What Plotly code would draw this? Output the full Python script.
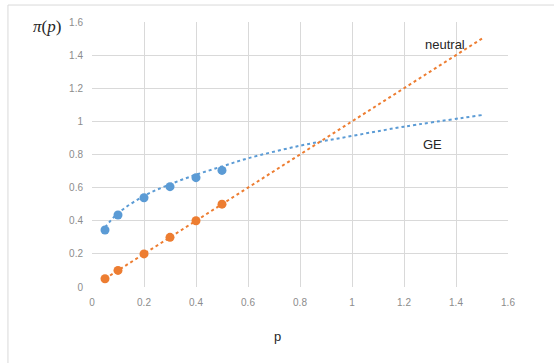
import plotly.graph_objects as go

# data points
p_vals = [0.05, 0.1, 0.2, 0.3, 0.4, 0.5]
ge_vals = [0.344, 0.435, 0.539, 0.606, 0.660, 0.704]
neutral_vals = [0.05, 0.1, 0.2, 0.3, 0.4, 0.5]

# trendlines
ge_trend_x = [0.05, 0.1, 0.2, 0.3, 0.4, 0.5, 0.6, 0.8, 1.0, 1.2, 1.5]
ge_trend_y = [0.36, 0.445, 0.55, 0.62, 0.678, 0.728, 0.777, 0.853, 0.912, 0.968, 1.038]
neutral_trend_x = [0.05, 1.5]
neutral_trend_y = [0.05, 1.5]

tick_vals = [0, 0.2, 0.4, 0.6, 0.8, 1.0, 1.2, 1.4, 1.6]
tick_text = ["0", "0.2", "0.4", "0.6", "0.8", "1", "1.2", "1.4", "1.6"]

BLUE = "#5B9BD5"
ORANGE = "#ED7D31"

fig = go.Figure()
fig.add_trace(go.Scatter(x=ge_trend_x, y=ge_trend_y, mode="lines",
                         line=dict(color=BLUE, width=2, dash="dot", shape="spline"),
                         hoverinfo="skip"))
fig.add_trace(go.Scatter(x=neutral_trend_x, y=neutral_trend_y, mode="lines",
                         line=dict(color=ORANGE, width=2, dash="dot"),
                         hoverinfo="skip"))
fig.add_trace(go.Scatter(x=p_vals, y=ge_vals, mode="markers",
                         marker=dict(color=BLUE, size=9), name="GE"))
fig.add_trace(go.Scatter(x=p_vals, y=neutral_vals, mode="markers",
                         marker=dict(color=ORANGE, size=9), name="neutral"))

axis_common = dict(
    range=[0, 1.6], tickvals=tick_vals, ticktext=tick_text,
    showgrid=True, gridcolor="#D9D9D9", gridwidth=1,
    zeroline=False, showline=False,
    ticks="outside", ticklen=6, tickcolor="rgba(0,0,0,0)",
    tickfont=dict(family="Liberation Sans, Arial", size=10, color="#8C8C8C"),
    fixedrange=True,
)

fig.update_layout(
    width=554, height=363,
    margin=dict(l=92, r=46, t=22, b=76),
    paper_bgcolor="white", plot_bgcolor="white",
    showlegend=False,
    xaxis=dict(**axis_common),
    yaxis=dict(**axis_common),
    annotations=[
        dict(x=1.358, y=1.462, xref="x", yref="y", text="neutral", showarrow=False,
             font=dict(family="Liberation Sans, Arial", size=13, color="#262626")),
        dict(x=1.308, y=0.86, xref="x", yref="y", text="GE", showarrow=False,
             font=dict(family="Liberation Sans, Arial", size=13, color="#262626")),
        dict(x=0.447, y=-0.187, xref="paper", yref="paper", text="p", showarrow=False,
             yanchor="middle",
             font=dict(family="Liberation Sans, Arial", size=13, color="#262626")),
        dict(x=-0.07, y=1.025, xref="paper", yref="paper",
             text="<i>π</i>(<i>p</i>)", showarrow=False, xanchor="right", yanchor="top",
             font=dict(family="Liberation Serif, DejaVu Serif", size=17, color="#262626")),
    ],
    shapes=[
        dict(type="line", xref="paper", yref="paper", x0=-0.202, x1=-0.202,
             y0=-0.3, y1=1.064, line=dict(color="#D9D9D9", width=1)),
        dict(type="line", xref="paper", yref="paper", x0=-0.202, x1=1.12,
             y0=1.064, y1=1.064, line=dict(color="#D9D9D9", width=1)),
    ],
)

fig.write_html("out.html")
